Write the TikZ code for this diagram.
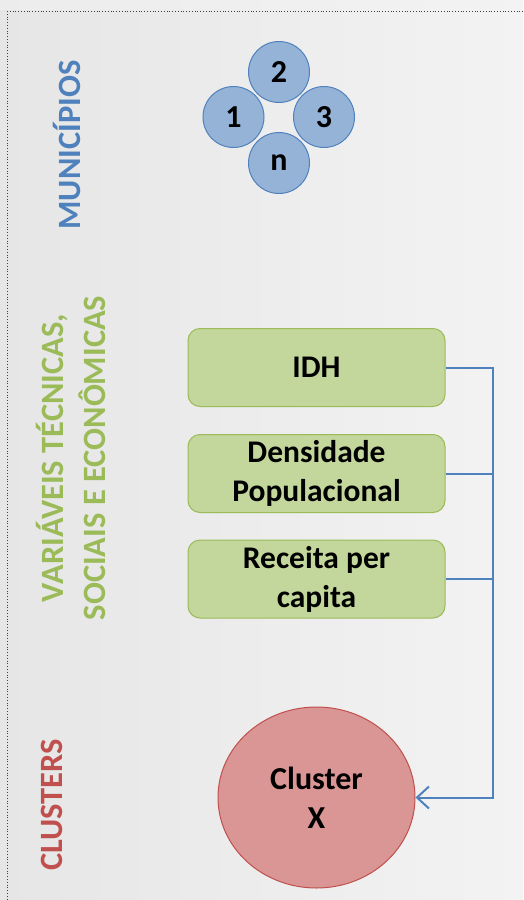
\documentclass[tikz,border=0pt]{standalone}
\usepackage{fontspec}
\setmainfont{Carlito}
\usetikzlibrary{shapes.geometric,arrows.meta}
\definecolor{bgL}{HTML}{E6E6E6}
\definecolor{bgR}{HTML}{F3F3F3}
\definecolor{blueT}{HTML}{4F81BD}
\definecolor{blueF}{HTML}{95B3D7}
\definecolor{greenT}{HTML}{9BBB59}
\definecolor{greenF}{HTML}{C3D69B}
\definecolor{redT}{HTML}{C0504D}
\definecolor{redF}{HTML}{D99694}
\tikzset{
  mun/.style={circle, draw=blueT, fill=blueF, line width=1pt, minimum size=61pt, inner sep=0pt,
    font=\fontsize{32}{38}\selectfont\bfseries},
  varbox/.style={rectangle, rounded corners=12pt, draw=greenT, fill=greenF, line width=1pt,
    minimum width=257pt, minimum height=78pt, align=center, inner sep=0pt,
    font=\fontsize{31.5}{39}\selectfont\bfseries},
  clusterell/.style={ellipse, draw=redT, fill=redF, line width=1pt, minimum width=197pt,
    minimum height=181pt, inner sep=0pt, align=center, font=\fontsize{32}{39}\selectfont\bfseries},
  sidelabel/.style={rotate=90, align=center, font=\fontsize{32.5}{42}\selectfont\bfseries},
  link/.style={draw=blueT, line width=2pt},
}
\begin{document}
\begin{tikzpicture}[x=1pt,y=-1pt]
\useasboundingbox (0,0) rectangle (523,900);
\shade[left color=bgL, right color=bgR] (0,0) rectangle (523,900);
\fill[bgR, opacity=0.5] (0,0) rectangle (523,10);
\draw[black!75, dotted, line width=0.8pt] (7,11) -- (530,11);
\draw[black!75, dotted, line width=0.8pt] (7,11) -- (7,905);

\node[sidelabel, text=blueT] (lmun) at (67,145) {MUNICÍPIOS};
\node[sidelabel, text=greenT] (lvar) at (71,458) {VARIÁVEIS TÉCNICAS,\\SOCIAIS E ECONÔMICAS};
\node[sidelabel, text=redT] (lclu) at (52,805) {CLUSTERS};

\node[mun] (m2) at (279,72) {2};
\node[mun] (m1) at (233.5,117) {1};
\node[mun] (m3) at (324,117) {3};
\node[mun] (mn) at (279,163) {n};

\node[varbox] (b1) at (316.5,367.5) {IDH};
\node[varbox] (b2) at (316.5,473.5) {Densidade\\Populacional};
\node[varbox] (b3) at (316.5,579) {Receita per\\capita};

\node[clusterell] (cx) at (316.5,797.5) {Cluster\\X};

\coordinate (bus) at (493,797.5);
\draw[link, -{Straight Barb[length=12pt,width=22pt]}] (b1.east) -| (bus) -- (cx.east);
\draw[link] (b2.east) -- (b2.east -| bus);
\draw[link] (b3.east) -- (b3.east -| bus);
\end{tikzpicture}
\end{document}
